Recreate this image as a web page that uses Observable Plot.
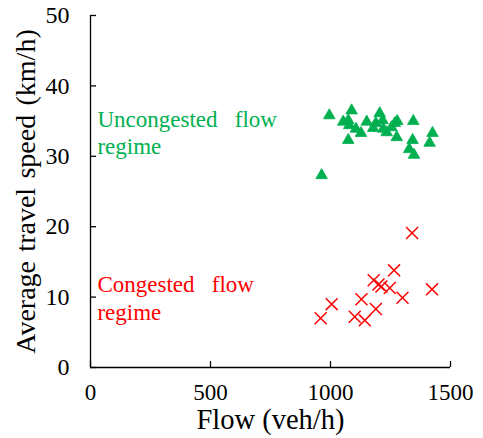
<!DOCTYPE html>
<html>
<head>
<meta charset="utf-8">
<script src="https://cdn.jsdelivr.net/npm/d3@7"></script>
<script src="https://cdn.jsdelivr.net/npm/@observablehq/plot@0.6"></script>
<style>
  html, body { margin: 0; padding: 0; background: #fff; }
</style>
</head>
<body>
<div id="chart"></div>
<script>
// Uncongested flow regime (green triangles)
const uncongestedFlow  = [995, 1088, 1053, 1074, 1078, 1106, 1127, 1074, 1151, 1205, 1189, 1217, 1178, 1220, 1234, 1254, 1268, 1278, 1276, 1345, 1342, 1328, 1348, 1425, 1413, 963];
const uncongestedSpeed = [35.8, 36.5, 34.9, 35.1, 34.4, 33.9, 33.3, 32.3, 34.9, 36.1, 34.7, 35.1, 34.0, 33.9, 33.4, 34.1, 34.7, 35.0, 32.7, 35.0, 32.3, 31.0, 30.2, 33.3, 31.9, 27.3];
// Congested flow regime (red crosses)
const congestedFlow  = [1340, 1265, 1180, 1212, 1247, 1200, 1423, 1300, 1129, 1005, 1189, 959, 1101, 1143];
const congestedSpeed = [19.1, 13.8, 12.4, 11.5, 11.3, 11.8, 11.1, 9.9, 9.7, 9.0, 8.3, 7.0, 7.2, 6.7];

const xTicks = [0, 500, 1000, 1500];
const yTicks = [0, 10, 20, 30, 40, 50];
const xLabel = "Flow\u00a0(veh/h)";
const yLabel = "Average\u00a0\u200atravel\u00a0\u200aspeed\u00a0\u200a(km/h)";
const labelUncongested = "Uncongested\u00a0\u00a0\u00a0flow\nregime";
const labelCongested = "Congested\u00a0\u00a0\u00a0flow\nregime";

const green = "#00b050";
const red = "#ff0000";

const W = 483, H = 438;
const mL = 90, mR = 33, mT = 15, mB = 71;
const plotW = W - mL - mR, plotH = H - mT - mB;

const green_data = uncongestedFlow.map((f, i) => ({flow: f, speed: uncongestedSpeed[i]}));
const red_data = congestedFlow.map((f, i) => ({flow: f, speed: congestedSpeed[i]}));

const chart = Plot.plot({
  width: W,
  height: H,
  marginLeft: mL,
  marginRight: mR,
  marginTop: mT,
  marginBottom: mB,
  style: {fontFamily: "'Liberation Serif', 'Times New Roman', serif", color: "#000", background: "#fff", overflow: "visible", fontWeight: "normal"},
  x: {domain: [0, 1500]},
  y: {domain: [0, 50]},
  marks: [
    // tick labels
    Plot.axisX(xTicks, {tickSize: 0, tickPadding: 16, fontSize: 23, label: null, tickFormat: d => String(d)}),
    Plot.axisY(yTicks, {tickSize: 0, tickPadding: 21, fontSize: 24, label: null, tickFormat: d => String(d)}),
    // axis titles
    Plot.axisX([], {tickSize: 0, fontSize: 28.5, label: xLabel, labelAnchor: "center", labelArrow: "none", labelOffset: 61}),
    Plot.axisY([], {tickSize: 0, fontSize: 28, label: yLabel, labelAnchor: "center", labelArrow: "none", labelOffset: 75}),
    // inward tick marks
    Plot.tickX(xTicks, {x: d => d, insetTop: plotH - 6, stroke: "#000", strokeWidth: 1.3}),
    Plot.tickY(yTicks, {y: d => d, insetRight: plotW - 6, stroke: "#000", strokeWidth: 1.3}),
    // axis lines
    Plot.ruleX([0], {stroke: "#000", strokeWidth: 1.3}),
    Plot.ruleY([0], {stroke: "#000", strokeWidth: 1.3}),
    // data
    Plot.dot(green_data, {x: "flow", y: "speed", symbol: "triangle", r: 4.3, fill: green, stroke: green, strokeWidth: 0.8}),
    Plot.dot(red_data, {x: "flow", y: "speed", symbol: "times", r: 5.5, stroke: red, strokeWidth: 1.5}),
    // regime labels
    Plot.text([{x: 29, y: 37.0}], {x: "x", y: "y", text: () => labelUncongested, textAnchor: "start", lineAnchor: "top", lineHeight: 1.2, fontSize: 23, fill: green}),
    Plot.text([{x: 29, y: 13.5}], {x: "x", y: "y", text: () => labelCongested, textAnchor: "start", lineAnchor: "top", lineHeight: 1.2, fontSize: 23, fill: red})
  ]
});
document.getElementById("chart").appendChild(chart);
</script>
</body>
</html>
